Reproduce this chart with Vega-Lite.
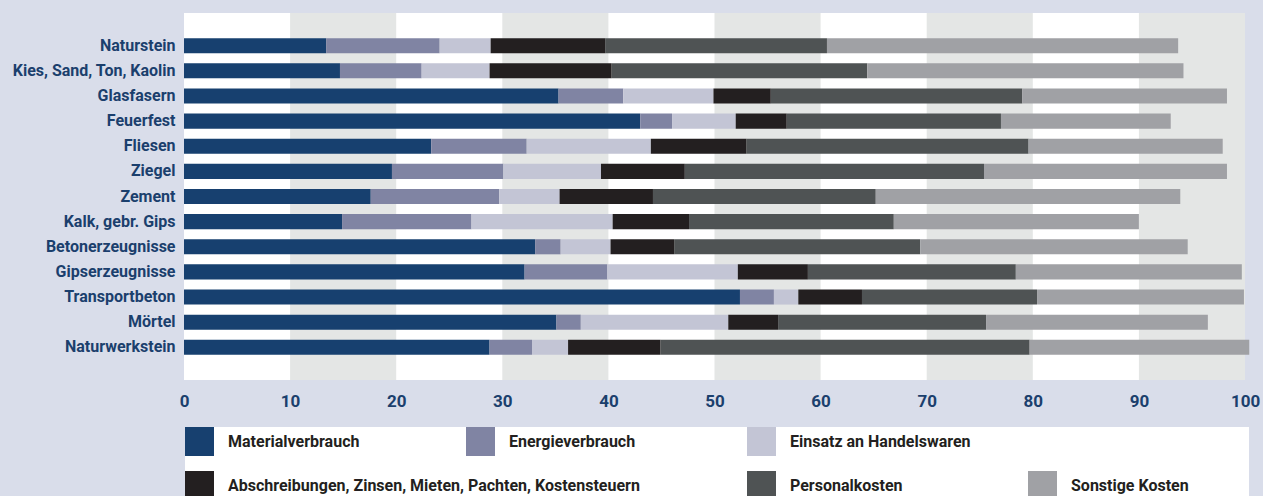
{
  "$schema": "https://vega.github.io/schema/vega-lite/v6.json",
  "width": 1061,
  "height": 367,
  "autosize": {"type": "none"},
  "padding": {"left": 184, "top": 13, "right": 18, "bottom": 116},
  "background": "#d9ddea",
  "config": {
    "view": {"fill": "white", "stroke": null},
    "font": "Roboto",
    "axis": {"grid": false, "ticks": false, "domain": false},
    "legend": {
      "orient": "none",
      "symbolType": "square",
      "symbolSize": 841,
      "symbolStrokeWidth": 0,
      "labelOffset": 14,
      "labelFontSize": 16,
      "labelFontWeight": "bold",
      "labelColor": "#231f20",
      "labelLimit": 700,
      "padding": 0,
      "rowPadding": 15,
      "symbolLimit": 0,
      "direction": "horizontal"
    }
  },
  "datasets": {
    "bands": [
      {"a": 10, "b": 20}, {"a": 30, "b": 40}, {"a": 50, "b": 60}, {"a": 70, "b": 80}, {"a": 90, "b": 100}
    ],
    "costs": [
      {"b": "Naturstein", "c": "Materialverbrauch", "k": 1, "v": 13.4},
      {"b": "Naturstein", "c": "Energieverbrauch", "k": 2, "v": 10.7},
      {"b": "Naturstein", "c": "Einsatz an Handelswaren", "k": 3, "v": 4.8},
      {"b": "Naturstein", "c": "Abschreibungen, Zinsen, Mieten, Pachten, Kostensteuern", "k": 4, "v": 10.8},
      {"b": "Naturstein", "c": "Personalkosten", "k": 5, "v": 20.9},
      {"b": "Naturstein", "c": "Sonstige Kosten", "k": 6, "v": 33.1},
      {"b": "Kies, Sand, Ton, Kaolin", "c": "Materialverbrauch", "k": 1, "v": 14.7},
      {"b": "Kies, Sand, Ton, Kaolin", "c": "Energieverbrauch", "k": 2, "v": 7.7},
      {"b": "Kies, Sand, Ton, Kaolin", "c": "Einsatz an Handelswaren", "k": 3, "v": 6.4},
      {"b": "Kies, Sand, Ton, Kaolin", "c": "Abschreibungen, Zinsen, Mieten, Pachten, Kostensteuern", "k": 4, "v": 11.5},
      {"b": "Kies, Sand, Ton, Kaolin", "c": "Personalkosten", "k": 5, "v": 24.1},
      {"b": "Kies, Sand, Ton, Kaolin", "c": "Sonstige Kosten", "k": 6, "v": 29.8},
      {"b": "Glasfasern", "c": "Materialverbrauch", "k": 1, "v": 35.3},
      {"b": "Glasfasern", "c": "Energieverbrauch", "k": 2, "v": 6.1},
      {"b": "Glasfasern", "c": "Einsatz an Handelswaren", "k": 3, "v": 8.5},
      {"b": "Glasfasern", "c": "Abschreibungen, Zinsen, Mieten, Pachten, Kostensteuern", "k": 4, "v": 5.4},
      {"b": "Glasfasern", "c": "Personalkosten", "k": 5, "v": 23.7},
      {"b": "Glasfasern", "c": "Sonstige Kosten", "k": 6, "v": 19.3},
      {"b": "Feuerfest", "c": "Materialverbrauch", "k": 1, "v": 43.0},
      {"b": "Feuerfest", "c": "Energieverbrauch", "k": 2, "v": 3.0},
      {"b": "Feuerfest", "c": "Einsatz an Handelswaren", "k": 3, "v": 6.0},
      {"b": "Feuerfest", "c": "Abschreibungen, Zinsen, Mieten, Pachten, Kostensteuern", "k": 4, "v": 4.8},
      {"b": "Feuerfest", "c": "Personalkosten", "k": 5, "v": 20.2},
      {"b": "Feuerfest", "c": "Sonstige Kosten", "k": 6, "v": 16.0},
      {"b": "Fliesen", "c": "Materialverbrauch", "k": 1, "v": 23.3},
      {"b": "Fliesen", "c": "Energieverbrauch", "k": 2, "v": 9.0},
      {"b": "Fliesen", "c": "Einsatz an Handelswaren", "k": 3, "v": 11.7},
      {"b": "Fliesen", "c": "Abschreibungen, Zinsen, Mieten, Pachten, Kostensteuern", "k": 4, "v": 9.0},
      {"b": "Fliesen", "c": "Personalkosten", "k": 5, "v": 26.6},
      {"b": "Fliesen", "c": "Sonstige Kosten", "k": 6, "v": 18.3},
      {"b": "Ziegel", "c": "Materialverbrauch", "k": 1, "v": 19.6},
      {"b": "Ziegel", "c": "Energieverbrauch", "k": 2, "v": 10.5},
      {"b": "Ziegel", "c": "Einsatz an Handelswaren", "k": 3, "v": 9.2},
      {"b": "Ziegel", "c": "Abschreibungen, Zinsen, Mieten, Pachten, Kostensteuern", "k": 4, "v": 7.9},
      {"b": "Ziegel", "c": "Personalkosten", "k": 5, "v": 28.2},
      {"b": "Ziegel", "c": "Sonstige Kosten", "k": 6, "v": 22.9},
      {"b": "Zement", "c": "Materialverbrauch", "k": 1, "v": 17.6},
      {"b": "Zement", "c": "Energieverbrauch", "k": 2, "v": 12.1},
      {"b": "Zement", "c": "Einsatz an Handelswaren", "k": 3, "v": 5.7},
      {"b": "Zement", "c": "Abschreibungen, Zinsen, Mieten, Pachten, Kostensteuern", "k": 4, "v": 8.8},
      {"b": "Zement", "c": "Personalkosten", "k": 5, "v": 21.0},
      {"b": "Zement", "c": "Sonstige Kosten", "k": 6, "v": 28.7},
      {"b": "Kalk, gebr. Gips", "c": "Materialverbrauch", "k": 1, "v": 14.9},
      {"b": "Kalk, gebr. Gips", "c": "Energieverbrauch", "k": 2, "v": 12.2},
      {"b": "Kalk, gebr. Gips", "c": "Einsatz an Handelswaren", "k": 3, "v": 13.3},
      {"b": "Kalk, gebr. Gips", "c": "Abschreibungen, Zinsen, Mieten, Pachten, Kostensteuern", "k": 4, "v": 7.2},
      {"b": "Kalk, gebr. Gips", "c": "Personalkosten", "k": 5, "v": 19.3},
      {"b": "Kalk, gebr. Gips", "c": "Sonstige Kosten", "k": 6, "v": 23.1},
      {"b": "Betonerzeugnisse", "c": "Materialverbrauch", "k": 1, "v": 33.1},
      {"b": "Betonerzeugnisse", "c": "Energieverbrauch", "k": 2, "v": 2.4},
      {"b": "Betonerzeugnisse", "c": "Einsatz an Handelswaren", "k": 3, "v": 4.7},
      {"b": "Betonerzeugnisse", "c": "Abschreibungen, Zinsen, Mieten, Pachten, Kostensteuern", "k": 4, "v": 6.0},
      {"b": "Betonerzeugnisse", "c": "Personalkosten", "k": 5, "v": 23.2},
      {"b": "Betonerzeugnisse", "c": "Sonstige Kosten", "k": 6, "v": 25.2},
      {"b": "Gipserzeugnisse", "c": "Materialverbrauch", "k": 1, "v": 32.1},
      {"b": "Gipserzeugnisse", "c": "Energieverbrauch", "k": 2, "v": 7.8},
      {"b": "Gipserzeugnisse", "c": "Einsatz an Handelswaren", "k": 3, "v": 12.3},
      {"b": "Gipserzeugnisse", "c": "Abschreibungen, Zinsen, Mieten, Pachten, Kostensteuern", "k": 4, "v": 6.6},
      {"b": "Gipserzeugnisse", "c": "Personalkosten", "k": 5, "v": 19.6},
      {"b": "Gipserzeugnisse", "c": "Sonstige Kosten", "k": 6, "v": 21.3},
      {"b": "Transportbeton", "c": "Materialverbrauch", "k": 1, "v": 52.4},
      {"b": "Transportbeton", "c": "Energieverbrauch", "k": 2, "v": 3.2},
      {"b": "Transportbeton", "c": "Einsatz an Handelswaren", "k": 3, "v": 2.3},
      {"b": "Transportbeton", "c": "Abschreibungen, Zinsen, Mieten, Pachten, Kostensteuern", "k": 4, "v": 6.0},
      {"b": "Transportbeton", "c": "Personalkosten", "k": 5, "v": 16.5},
      {"b": "Transportbeton", "c": "Sonstige Kosten", "k": 6, "v": 19.5},
      {"b": "Mörtel", "c": "Materialverbrauch", "k": 1, "v": 35.1},
      {"b": "Mörtel", "c": "Energieverbrauch", "k": 2, "v": 2.3},
      {"b": "Mörtel", "c": "Einsatz an Handelswaren", "k": 3, "v": 13.9},
      {"b": "Mörtel", "c": "Abschreibungen, Zinsen, Mieten, Pachten, Kostensteuern", "k": 4, "v": 4.7},
      {"b": "Mörtel", "c": "Personalkosten", "k": 5, "v": 19.6},
      {"b": "Mörtel", "c": "Sonstige Kosten", "k": 6, "v": 20.9},
      {"b": "Naturwerkstein", "c": "Materialverbrauch", "k": 1, "v": 28.8},
      {"b": "Naturwerkstein", "c": "Energieverbrauch", "k": 2, "v": 4.0},
      {"b": "Naturwerkstein", "c": "Einsatz an Handelswaren", "k": 3, "v": 3.4},
      {"b": "Naturwerkstein", "c": "Abschreibungen, Zinsen, Mieten, Pachten, Kostensteuern", "k": 4, "v": 8.7},
      {"b": "Naturwerkstein", "c": "Personalkosten", "k": 5, "v": 34.8},
      {"b": "Naturwerkstein", "c": "Sonstige Kosten", "k": 6, "v": 20.7}
    ]
  },
  "layer": [
    {
      "data": {"name": "bands"},
      "mark": {"type": "rect", "color": "#e4e6e5"},
      "encoding": {
        "x": {
          "field": "a", "type": "quantitative",
          "scale": {"domain": [0, 100], "nice": false},
          "axis": {"title": null, "values": [0, 10, 20, 30, 40, 50, 60, 70, 80, 90, 100], "labelFontSize": 17, "labelFontWeight": "bold", "labelColor": "#1b3f6d", "labelPadding": 13, "labelFlush": false}
        },
        "x2": {"field": "b"}
      }
    },
    {
      "data": {"name": "costs"},
      "transform": [
        {"stack": "v", "groupby": ["b"], "sort": [{"field": "k", "order": "ascending"}], "as": ["x0", "x1"]},
        {"filter": "datum.k != 4"}
      ],
      "mark": {"type": "bar"},
      "encoding": {
        "y": {
          "field": "b", "type": "nominal",
          "sort": ["Naturstein", "Kies, Sand, Ton, Kaolin", "Glasfasern", "Feuerfest", "Fliesen", "Ziegel", "Zement", "Kalk, gebr. Gips", "Betonerzeugnisse", "Gipserzeugnisse", "Transportbeton", "Mörtel", "Naturwerkstein"],
          "scale": {"paddingInner": 0.4, "paddingOuter": 1.04},
          "axis": {"title": null, "labelFontSize": 16, "labelFontWeight": "bold", "labelColor": "#1b3f6d", "labelPadding": 9, "labelLimit": 300}
        },
        "x": {
          "field": "x0", "type": "quantitative",
          "scale": {"domain": [0, 100], "nice": false},
          "axis": {"title": null, "values": [0, 10, 20, 30, 40, 50, 60, 70, 80, 90, 100], "labelFontSize": 17, "labelFontWeight": "bold", "labelColor": "#1b3f6d", "labelPadding": 13, "labelFlush": false}
        },
        "x2": {"field": "x1"},
        "color": {
          "field": "c", "type": "nominal",
          "scale": {
            "domain": ["Materialverbrauch", "Energieverbrauch", "Einsatz an Handelswaren", "   ", " ", "  ", "Personalkosten", "Sonstige Kosten"],
            "range": ["#17406f", "#8084a3", "#c3c5d5", "transparent", "transparent", "transparent", "#4f5354", "#a0a1a5"]
          },
          "legend": {
            "title": null,
            "legendX": 1,
            "legendY": 414,
            "columns": 4,
            "gridAlign": "all",
            "columnPadding": 57,
            "fillColor": "white",
            "encode": {
              "symbols": {
                "update": {
                  "shape": {"signal": "datum.value === '   ' ? 'M-1,-1H14.2V1H-1Z' : 'square'"}
                }
              }
            }
          }
        }
      }
    },
    {
      "data": {"name": "costs"},
      "transform": [
        {"stack": "v", "groupby": ["b"], "sort": [{"field": "k", "order": "ascending"}], "as": ["x0", "x1"]},
        {"filter": "datum.k == 4"}
      ],
      "mark": {"type": "bar"},
      "encoding": {
        "y": {
          "field": "b", "type": "nominal",
          "sort": ["Naturstein", "Kies, Sand, Ton, Kaolin", "Glasfasern", "Feuerfest", "Fliesen", "Ziegel", "Zement", "Kalk, gebr. Gips", "Betonerzeugnisse", "Gipserzeugnisse", "Transportbeton", "Mörtel", "Naturwerkstein"],
          "scale": {"paddingInner": 0.4, "paddingOuter": 1.04},
          "axis": {"title": null, "labelFontSize": 16, "labelFontWeight": "bold", "labelColor": "#1b3f6d", "labelPadding": 9, "labelLimit": 300}
        },
        "x": {
          "field": "x0", "type": "quantitative",
          "scale": {"domain": [0, 100], "nice": false},
          "axis": {"title": null, "values": [0, 10, 20, 30, 40, 50, 60, 70, 80, 90, 100], "labelFontSize": 17, "labelFontWeight": "bold", "labelColor": "#1b3f6d", "labelPadding": 13, "labelFlush": false}
        },
        "x2": {"field": "x1"},
        "fill": {
          "field": "c", "type": "nominal",
          "scale": {
            "domain": ["Abschreibungen, Zinsen, Mieten, Pachten, Kostensteuern"],
            "range": ["#231f20"]
          },
          "legend": {
            "title": null,
            "legendX": 1,
            "legendY": 458
          }
        }
      }
    }
  ]
}
